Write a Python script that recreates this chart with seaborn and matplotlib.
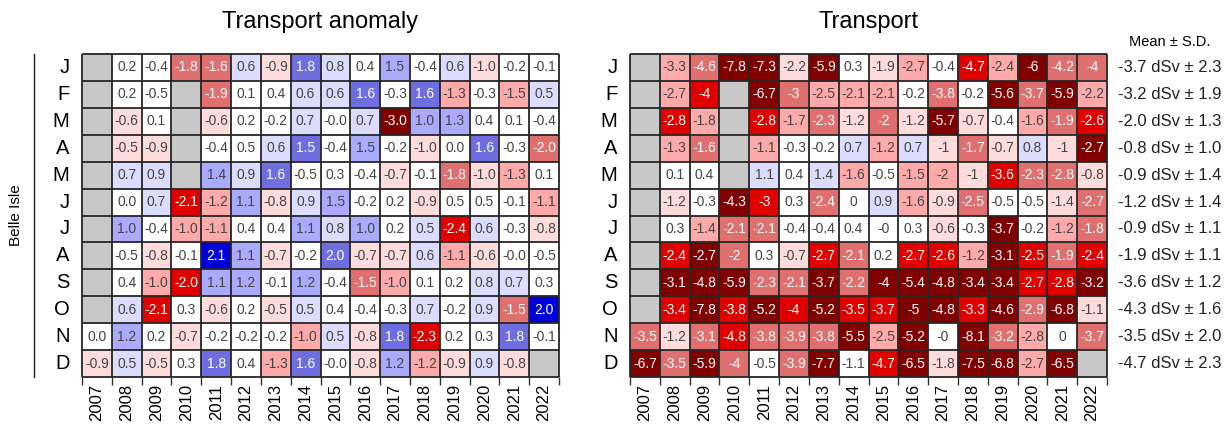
import numpy as np
import matplotlib
matplotlib.use("Agg")
import matplotlib.pyplot as plt
import matplotlib.transforms as mtransforms
from matplotlib.colors import ListedColormap, BoundaryNorm
import seaborn as sns

nan = np.nan

years = [str(y) for y in range(2007, 2023)]
months = ["J", "F", "M", "A", "M", "J", "J", "A", "S", "O", "N", "D"]
region = "Belle Isle"

# Standardised monthly transport anomaly (S.D. units), rows = months, cols = years
anomaly = [
    [nan, 0.2, -0.4, -1.8, -1.6, 0.6, -0.9, 1.8, 0.8, 0.4, 1.48, -0.4, 0.6, -0.98, -0.2, -0.1],
    [nan, 0.2, -0.48, nan, -1.9, 0.1, 0.4, 0.6, 0.6, 1.6, -0.3, 1.6, -1.3, -0.3, -1.48, 0.52],
    [nan, -0.6, 0.1, nan, -0.6, 0.2, -0.2, 0.7, -0.0, 0.7, -3.0, 1.02, 1.3, 0.4, 0.1, -0.4],
    [nan, -0.52, -0.9, nan, -0.4, 0.48, 0.6, 1.52, -0.4, 1.48, -0.2, -0.98, 0.0, 1.6, -0.3, -1.98],
    [nan, 0.7, 0.9, nan, 1.4, 0.9, 1.6, -0.48, 0.3, -0.4, -0.7, -0.1, -1.8, -0.98, -1.3, 0.1],
    [nan, 0.0, 0.7, -2.1, -1.2, 1.1, -0.8, 0.9, 1.48, -0.2, 0.2, -0.9, 0.48, 0.48, -0.1, -1.1],
    [nan, 1.02, -0.4, -1.02, -1.1, 0.4, 0.4, 1.1, 0.8, 1.02, 0.2, 0.52, -2.4, 0.6, -0.3, -0.8],
    [nan, -0.48, -0.8, -0.1, 2.1, 1.1, -0.7, -0.2, 1.98, -0.7, -0.7, 0.6, -1.1, -0.6, -0.0, -0.48],
    [nan, 0.4, -1.02, -2.02, 1.1, 1.2, -0.1, 1.2, -0.4, -1.52, -1.02, 0.1, 0.2, 0.8, 0.7, 0.3],
    [nan, 0.6, -2.1, 0.3, -0.6, 0.2, -0.52, 0.52, 0.4, -0.4, -0.3, 0.7, -0.2, 0.9, -1.52, 2.02],
    [0.0, 1.2, 0.2, -0.7, -0.2, -0.2, -0.2, -1.02, 0.52, -0.8, 1.8, -2.3, 0.2, 0.3, 1.8, -0.1],
    [-0.9, 0.52, -0.52, 0.3, 1.8, 0.4, -1.3, 1.6, -0.0, -0.8, 1.2, -1.2, -0.9, 0.9, -0.8, nan],
]

# Monthly transport (dSv)
transport = [
    [nan, -3.3, -4.6, -7.8, -7.3, -2.2, -5.9, 0.3, -1.9, -2.7, -0.4, -4.7, -2.4, -6.0, -4.2, -4.0],
    [nan, -2.7, -4.0, nan, -6.7, -3.0, -2.5, -2.1, -2.1, -0.2, -3.8, -0.2, -5.6, -3.7, -5.9, -2.2],
    [nan, -2.8, -1.8, nan, -2.8, -1.7, -2.3, -1.2, -2.0, -1.2, -5.7, -0.7, -0.4, -1.6, -1.9, -2.6],
    [nan, -1.3, -1.6, nan, -1.1, -0.3, -0.2, 0.7, -1.2, 0.7, -1.0, -1.7, -0.7, 0.8, -1.0, -2.7],
    [nan, 0.1, 0.4, nan, 1.1, 0.4, 1.4, -1.6, -0.5, -1.5, -2.0, -1.0, -3.6, -2.3, -2.8, -0.8],
    [nan, -1.2, -0.3, -4.3, -3.0, 0.3, -2.4, 0.0, 0.9, -1.6, -0.9, -2.5, -0.5, -0.5, -1.4, -2.7],
    [nan, 0.3, -1.4, -2.1, -2.1, -0.4, -0.4, 0.4, -0.0, 0.3, -0.6, -0.3, -3.7, -0.2, -1.2, -1.8],
    [nan, -2.4, -2.74, -2.0, 0.3, -0.7, -2.66, -2.1, 0.2, -2.66, -2.6, -1.2, -3.1, -2.5, -1.9, -2.4],
    [nan, -3.1, -4.8, -5.9, -2.3, -2.1, -3.7, -2.2, -4.0, -5.4, -4.8, -3.4, -3.4, -2.7, -2.8, -3.2],
    [nan, -3.4, -7.8, -3.8, -5.2, -4.0, -5.2, -3.5, -3.7, -5.0, -4.8, -3.3, -4.6, -2.9, -6.8, -1.1],
    [-3.5, -1.2, -3.1, -4.8, -3.8, -3.9, -3.8, -5.5, -2.5, -5.2, -0.0, -8.1, -3.2, -2.8, 0.0, -3.7],
    [-6.7, -3.5, -5.9, -4.0, -0.5, -3.9, -7.7, -1.1, -4.7, -6.5, -1.8, -7.5, -6.8, -2.7, -6.5, nan],
]

monthly_mean = [-3.7, -3.2, -2.0, -0.8, -0.9, -1.2, -0.9, -1.9, -3.6, -4.3, -3.5, -4.7]
monthly_sd = [2.3, 1.9, 1.26, 1.0, 1.445, 1.4, 1.1, 1.08, 1.2, 1.6, 2.0, 2.3]

# ---- styling -------------------------------------------------------------
plt.rcParams["font.family"] = ["Liberation Sans", "DejaVu Sans"]

bin_edges = [-100, -2.5, -2.0, -1.5, -1.0, -0.5, 0.5, 1.0, 1.5, 2.0, 100]
bin_colors = ["#800000", "#e00000", "#e07070", "#ffaaaa", "#ffdcdc",
              "#ffffff",
              "#dcdcff", "#aaaaff", "#6e6ee0", "#0000dc"]
cmap = ListedColormap(bin_colors)
norm = BoundaryNorm(bin_edges, cmap.N)

W, H = 1230, 428
fig = plt.figure(figsize=(W / 100, H / 100), dpi=100)

grid_top, grid_bot = 54, 377
left_x0, right_x0, grid_w = 82, 630, 477


def px_axes(x0):
    return fig.add_axes([x0 / W, (H - grid_bot) / H, grid_w / W, (grid_bot - grid_top) / H])


def draw_panel(ax, colour_values, labels, title):
    sns.heatmap(colour_values, ax=ax, cmap=cmap, norm=norm, cbar=False,
                annot=labels, fmt="", annot_kws={"fontsize": 10},
                linewidths=0, xticklabels=years, yticklabels=months)
    ax.set_facecolor("#c8c8c8")
    for t in ax.texts:
        if t.get_color() != "w":
            t.set_color("#444444")
    nrow, ncol = colour_values.shape
    ax.hlines(np.arange(nrow + 1), 0, ncol, colors="#262626", lw=1.3, clip_on=False, zorder=5)
    ax.vlines(np.arange(ncol + 1), 0, nrow, colors="#262626", lw=1.3, clip_on=False, zorder=5)
    # ticks on cell boundaries, year labels at cell centres
    ax.set_xticks(np.arange(ncol + 1))
    ax.set_xticklabels([])
    ax.set_xticks(np.arange(ncol) + 0.5, minor=True)
    ax.set_xticklabels(years, minor=True, rotation=90, fontsize=12)
    ax.tick_params(axis="x", which="major", length=6, width=1, color="#333333", direction="out")
    ax.tick_params(axis="x", which="minor", length=0, pad=5)
    ax.set_yticks(np.arange(nrow) + 0.5)
    ax.set_yticklabels(months, rotation=0, fontsize=14.5)
    ax.tick_params(axis="y", length=0, pad=9)
    ax.set_xlabel("")
    ax.set_ylabel("")
    ax.set_title(title, fontsize=17, pad=19)


# left: anomaly
ax1 = px_axes(left_x0)
anom = np.array(anomaly, dtype=float)
anom_labels = np.array([["" if np.isnan(v) else f"{v:.1f}" for v in row] for row in anom])
draw_panel(ax1, anom, anom_labels, "Transport anomaly")

# region bracket and label
ax1.plot([-48 / grid_w, -48 / grid_w], [0, 1], color="#222222", lw=1,
         transform=ax1.transAxes, clip_on=False)
ax1.text(-66 / grid_w, 0.5, region, rotation=90, ha="center", va="center",
         fontsize=11, transform=ax1.transAxes)

# right: transport, coloured in units of each month's S.D.
ax2 = px_axes(right_x0)
trans = np.array(transport, dtype=float)
sd = np.array(monthly_sd)[:, None]
trans_labels = np.array([["" if np.isnan(v) else f"{round(v, 1):g}" for v in row] for row in trans])
draw_panel(ax2, trans / sd, trans_labels, "Transport")

blend = mtransforms.blended_transform_factory(ax2.transAxes, ax2.transData)
for i, (m, s) in enumerate(zip(monthly_mean, monthly_sd)):
    ax2.text(1 + 11 / grid_w, i + 0.5, f"{m:.1f} dSv \u00b1 {round(s, 1):.1f}", transform=blend,
             ha="left", va="center", fontsize=12, color="#222222")
fig.text(1170 / W, 1 - 42 / H, "Mean \u00b1 S.D.", ha="center", va="center", fontsize=10.5)

fig.savefig("out.png", dpi=100)
